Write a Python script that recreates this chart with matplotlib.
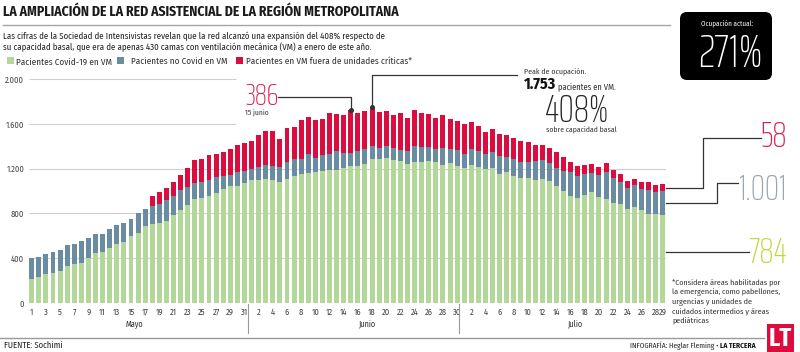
import numpy as np
import matplotlib
matplotlib.use("Agg")
import matplotlib.pyplot as plt
from matplotlib import font_manager as fm
from matplotlib.font_manager import FontProperties
from matplotlib.textpath import TextPath
from matplotlib.patches import Rectangle, FancyBboxPatch
from matplotlib.transforms import IdentityTransform
from matplotlib.lines import Line2D

# ---------------- data ----------------
months = ["Mayo", "Junio", "Julio"]
days_may = list(range(1, 32))
days_jun = list(range(1, 31))
days_jul = list(range(1, 30))

covid_may = [212, 232, 256, 271, 286, 328, 349, 358, 399, 444, 453, 492, 524, 542, 599, 626,
             688, 709, 715, 736, 787, 831, 879, 930, 939, 956, 983, 1016, 1043, 1043, 1073]
nocovid_may = [190, 176, 182, 182, 191, 190, 181, 193, 179, 170, 164, 167, 173, 170, 155, 176,
               155, 155, 173, 182, 170, 176, 158, 146, 143, 147, 140, 119, 101, 125, 110]
fuera_may = [0, 0, 0, 0, 0, 0, 0, 0, 0, 0, 0, 0, 0, 0, 0, 0,
             0, 89, 101, 113, 125, 134, 173, 202, 205, 217, 209, 212, 230, 247, 247]

covid_jun = [1103, 1103, 1105, 1100, 1082, 1105, 1135, 1150, 1159, 1168, 1180, 1186, 1192, 1204, 1222,
             1228, 1246, 1287, 1284, 1293, 1281, 1266, 1246, 1263, 1263, 1269, 1260, 1234, 1254, 1225]
nocovid_jun = [92, 113, 132, 128, 134, 152, 149, 140, 170, 131, 143, 149, 167, 140, 120,
               128, 134, 113, 99, 113, 102, 99, 110, 143, 131, 125, 117, 152, 123, 140]
fuera_jun = [250, 289, 301, 307, 253, 310, 292, 343, 331, 334, 322, 360, 330, 334, 386,
             345, 336, 353, 327, 307, 301, 336, 301, 322, 301, 295, 277, 295, 265, 262]

covid_jul = [1204, 1234, 1216, 1195, 1204, 1156, 1171, 1138, 1114, 1117, 1097, 1105, 1091, 1046, 998,
             959, 942, 968, 989, 948, 930, 897, 888, 843, 855, 828, 799, 799, 784]
nocovid_jul = [128, 140, 143, 137, 143, 155, 137, 149, 149, 140, 169, 170, 158, 164, 179,
               209, 190, 188, 173, 193, 241, 220, 191, 188, 200, 194, 214, 196, 217]
fuera_jul = [271, 247, 226, 197, 211, 203, 194, 191, 185, 179, 143, 134, 134, 143, 131,
             95, 93, 81, 81, 78, 78, 75, 77, 60, 56, 60, 69, 63, 58]

tick_days_may = list(range(1, 32, 2))
tick_days_jun = list(range(2, 31, 2))
tick_days_jul = list(range(2, 29, 2)) + [29]

y_ticks = [0, 400, 800, 1200, 1600, 2000]
y_tick_labels = ["0", "400", "800", "1.200", "1.600", "2.000"]

legend_labels = ["Pacientes Covid-19 en VM", "Pacientes no Covid en VM",
                 "Pacientes en VM fuera de unidades críticas*"]

peak_label = "1.753"
red_jun15_label = "386"
expansion_label = "408%"
occupancy_label = "271%"
last_fuera_label = "58"
last_uci_label = "1.001"
last_covid_label = "784"

title = "LA AMPLIACIÓN DE LA RED ASISTENCIAL DE LA REGIÓN METROPOLITANA"
subtitle = ["Las cifras de la Sociedad de Intensivistas revelan que la red alcanzó una expansión del 408% respecto de",
            "su capacidad basal, que era de apenas 430 camas con ventilación mecánica (VM) a enero de este año."]
footnote = ["*Considera áreas habilitadas por", "la emergencia, como pabellones,",
            "urgencias y unidades de", "cuidados intermedios y áreas", "pediátricas"]

# ---------------- colours ----------------
C_GREEN = "#b3d799"
C_BLUE = "#6a8ca2"
C_RED = "#dc0d3e"
C_RED_TXT = "#d81e4f"
C_BLUE_TXT = "#9aa6b3"
C_LIME_TXT = "#c3d43a"
C_GRID = "#cfcfcf"
C_TXT = "#222222"
C_LEAD = "#333333"

# ---------------- fonts ----------------
def wnum(w):
    if isinstance(w, str):
        return int(w) if w.isdigit() else int(fm.weight_dict.get(w, 400))
    return int(w)

_ents = [(f.name, wnum(f.weight)) for f in fm.fontManager.ttflist]

def has(name, lo, hi):
    return any(n == name and lo <= w <= hi for n, w in _ents)

BODY = "DejaVu Sans"
for c in ["Fira Sans Condensed", "Barlow Semi Condensed", "Encode Sans Condensed",
          "IBM Plex Sans Condensed", "PT Sans Narrow", "Archivo Narrow", "Liberation Sans Narrow"]:
    if has(c, 350, 450) and has(c, 600, 800):
        BODY = c
        break

THIN, THIN_W = "DejaVu Sans", 200
for c in ["Saira ExtraCondensed", "Saira Extra Condensed", "Encode Sans Compressed",
          "Fira Sans Extra Condensed", "Saira Condensed", "Barlow Condensed", "Fira Sans Condensed"]:
    ws = sorted(set(w for n, w in _ents if n == c))
    light = [w for w in ws if w <= 300]
    if light:
        THIN = c
        THIN_W = light[0]
        break

fp_reg = FontProperties(family=BODY, weight=400)
fp_bold = FontProperties(family=BODY, weight=700)
fp_thin = FontProperties(family=THIN, weight=THIN_W)

W, H = 800, 352
fig = plt.figure(figsize=(W / 100, H / 100), dpi=100)
fig.patch.set_facecolor("white")


def ink(s, fp):
    return TextPath((0, 0), s, size=100, prop=fp).get_extents()


def size_w(s, fp, wpx):
    return 100 * wpx / (ink(s, fp).width / 0.72)


def size_h(s, fp, hpx):
    return 100 * hpx / (ink(s, fp).height / 0.72)


def txt(s, x, yb, fp, size, ha="left", color=C_TXT, **kw):
    return fig.text(x / W, 1 - yb / H, s, fontproperties=fp, fontsize=size, ha=ha,
                    va="baseline", color=color, **kw)


def pline(pts, **kw):
    xs = [p[0] for p in pts]
    ys = [H - p[1] for p in pts]
    fig.add_artist(Line2D(xs, ys, transform=IdentityTransform(), **kw))


# ---------------- axes ----------------
ax = fig.add_axes([28.9 / W, (H - 303) / H, 636.7 / W, 223.8 / H])
ax.set_xlim(-0.4, 89.4)
ax.set_ylim(0, 2000)
for s in ax.spines.values():
    s.set_visible(False)
ax.set_facecolor("none")

covid = np.array(covid_may + covid_jun + covid_jul)
nocovid = np.array(nocovid_may + nocovid_jun + nocovid_jul)
fuera = np.array(fuera_may + fuera_jun + fuera_jul)
x = np.arange(len(covid))
off = {"may": 0, "jun": len(days_may), "jul": len(days_may) + len(days_jun)}


def d2px(xd, yd):
    X, Y = ax.transData.transform((xd, yd))
    return X, H - Y


def px2d(xp, yp):
    return ax.transData.inverted().transform((xp, H - yp))


# gridlines
x_short = px2d(236, 0)[0]
ax.hlines([400, 800, 1200], -0.4, 89.4, color=C_GRID, lw=0.8, zorder=0)
ax.hlines([1600, 2000], -0.4, x_short, color=C_GRID, lw=0.8, zorder=0, clip_on=False)

bw = 0.7
ax.bar(x, covid, width=bw, color=C_GREEN, zorder=2, linewidth=0)
ax.bar(x, nocovid, width=bw, bottom=covid, color=C_BLUE, zorder=2, linewidth=0)
ax.bar(x, fuera, width=bw, bottom=covid + nocovid, color=C_RED, zorder=2, linewidth=0)

# tick fonts
ts = size_w("1.600", fp_reg, 17.5)
fp_tick = FontProperties(family=BODY, weight=400, size=ts)
ax.set_yticks(y_ticks)
ax.set_yticklabels(y_tick_labels, fontproperties=fp_tick)
xt_pos = ([off["may"] + d - 1 for d in tick_days_may] + [off["jun"] + d - 1 for d in tick_days_jun]
          + [off["jul"] + d - 1 for d in tick_days_jul])
xt_lab = [str(d) for d in tick_days_may + tick_days_jun + tick_days_jul]
ax.set_xticks(xt_pos)
ax.set_xticklabels(xt_lab, fontproperties=fp_tick)
ax.tick_params(axis="both", length=0, colors="#444444")
ax.tick_params(axis="x", pad=3.2)
ax.tick_params(axis="y", pad=3.4)

# month labels and separators
ms = size_w("Mayo", fp_reg, 17)
for name, xp in zip(months, [134, 367, 575]):
    txt(name, xp, 326.5, fp_reg, ms, ha="center", color="#333333")
for xd in [30.5, 60.3]:
    xp = d2px(xd, 0)[0]
    pline([(xp, 304), (xp, 333)], color="#9a9a9a", lw=0.8)

# ---------------- header ----------------
tsz = size_w(title, fp_bold, 397)
txt(title, 3.3, 16, fp_bold, tsz, color="#1a1a1a")
pline([(3, 25), (670, 25)], color="#a5a5a5", lw=1.0)

ssz = size_w(subtitle[0], fp_reg, 380)
txt(subtitle[0], 3.3, 39, fp_reg, ssz)
txt(subtitle[1], 3.3, 50.5, fp_reg, ssz)

lsz = size_w(legend_labels[0], fp_reg, 94)
for (sx, tx), col, lab in zip([(6.7, 16), (116.7, 131), (236, 245.5)], [C_GREEN, C_BLUE, C_RED],
                              legend_labels):
    fig.add_artist(Rectangle((sx, H - 64), 7, 7, transform=IdentityTransform(), fc=col, ec="none"))
    txt(lab, tx, 64.3, fp_reg, lsz, color="#333333")

# black box
fig.add_artist(FancyBboxPatch((680, H - 80), 92, 68, boxstyle="round,pad=0,rounding_size=7",
                              transform=IdentityTransform(), fc="black", ec="none"))
txt("Ocupación actual:", 727, 25.5, fp_reg, size_w("Ocupación actual:", fp_reg, 51), ha="center",
    color="white")
txt(occupancy_label, 730, 67, fp_thin, size_h(occupancy_label, fp_thin, 33), ha="center", color="white")

# ---------------- annotations ----------------
i15 = off["jun"] + 15 - 1
top15 = covid[i15] + nocovid[i15] + fuera[i15]
bx, by = d2px(i15, top15)
pline([(278, 97), (bx, 97), (bx, by)], color=C_LEAD, lw=0.9)
pline([(bx, by)], color=C_LEAD, marker="o", ms=2.6, lw=0)
txt(red_jun15_label, 245, 105, fp_thin, size_h(red_jun15_label, fp_thin, 21), color=C_RED_TXT)
txt("15 junio", 245, 114.5, fp_reg, size_w("15 junio", fp_reg, 23), color="#333333")

tot = covid + nocovid + fuera
ipk = int(np.argmax(tot))
px_, py_ = d2px(ipk, tot[ipk])
pline([(px_, py_), (px_, 75), (517, 75)], color=C_LEAD, lw=0.9)
pline([(px_, py_)], color=C_LEAD, marker="o", ms=2.6, lw=0)
txt("Peak de ocupación.", 524, 74, fp_reg, size_w("Peak de ocupación.", fp_reg, 61), color="#333333")
txt(peak_label, 524, 89, fp_bold, size_w(peak_label, fp_bold, 32), color="#111111")
txt("pacientes en VM.", 558, 89, fp_reg, size_w("pacientes en VM.", fp_reg, 57), color="#333333")
txt(expansion_label, 545, 122, fp_thin, size_h(expansion_label, fp_thin, 27), color="#222222")
txt("sobre capacidad basal", 546, 132, fp_reg, size_w("sobre capacidad basal", fp_reg, 70),
    color="#333333")

# right-hand labels
il = len(tot) - 1
xe = d2px(89.4, 0)[0]
y58 = d2px(il, covid[il] + nocovid[il] + fuera[il] / 2)[1]
y1001 = d2px(il, covid[il] + nocovid[il] / 2)[1]
pline([(xe, y58), (703, y58), (703, 138), (761, 138)], color=C_LEAD, lw=0.9)
pline([(xe, y1001), (717, y1001), (717, 183), (738, 183)], color=C_LEAD, lw=0.9)
pline([(xe, 252), (749, 252)], color=C_LEAD, lw=0.9)
txt(last_fuera_label, 787, 147, fp_thin, size_h(last_fuera_label, fp_thin, 25), ha="right", color=C_RED_TXT)
txt(last_uci_label, 787, 200, fp_thin, size_h(last_uci_label, fp_thin, 25), ha="right", color=C_BLUE_TXT)
txt(last_covid_label, 787, 263, fp_thin, size_h(last_covid_label, fp_thin, 25), ha="right", color=C_LIME_TXT)

# footnote
fsz = size_w(footnote[0], fp_reg, 108)
for k, line in enumerate(footnote):
    txt(line, 672.5, 285 + k * 9.4, fp_reg, fsz, color="#333333")

# ---------------- footer ----------------
pline([(0, 337.5), (764, 337.5)], color="#9a9a9a", lw=1.0)
txt("FUENTE: Sochimi", 3.5, 348.5, fp_reg, size_w("FUENTE: Sochimi", fp_reg, 57), color="#222222")
fsz2 = size_w("INFOGRAFÍA: Heglar Fleming • LA TERCERA", fp_reg, 124)
wb = ink("LA TERCERA", fp_bold).width / 0.72 * fsz2 / 100
txt("LA TERCERA", 756, 348, fp_bold, fsz2, ha="right", color="#111111")
txt("INFOGRAFÍA: Heglar Fleming •", 756 - wb - 2.5, 348, fp_reg, fsz2, ha="right", color="#222222")

fig.add_artist(Rectangle((767, 0), 27, 28, transform=IdentityTransform(), fc=C_RED, ec="none"))
txt("LT", 780.5, 346, fp_bold, size_h("LT", fp_bold, 17), ha="center", color="white")

fig.savefig("out.png", dpi=100, facecolor="white")
